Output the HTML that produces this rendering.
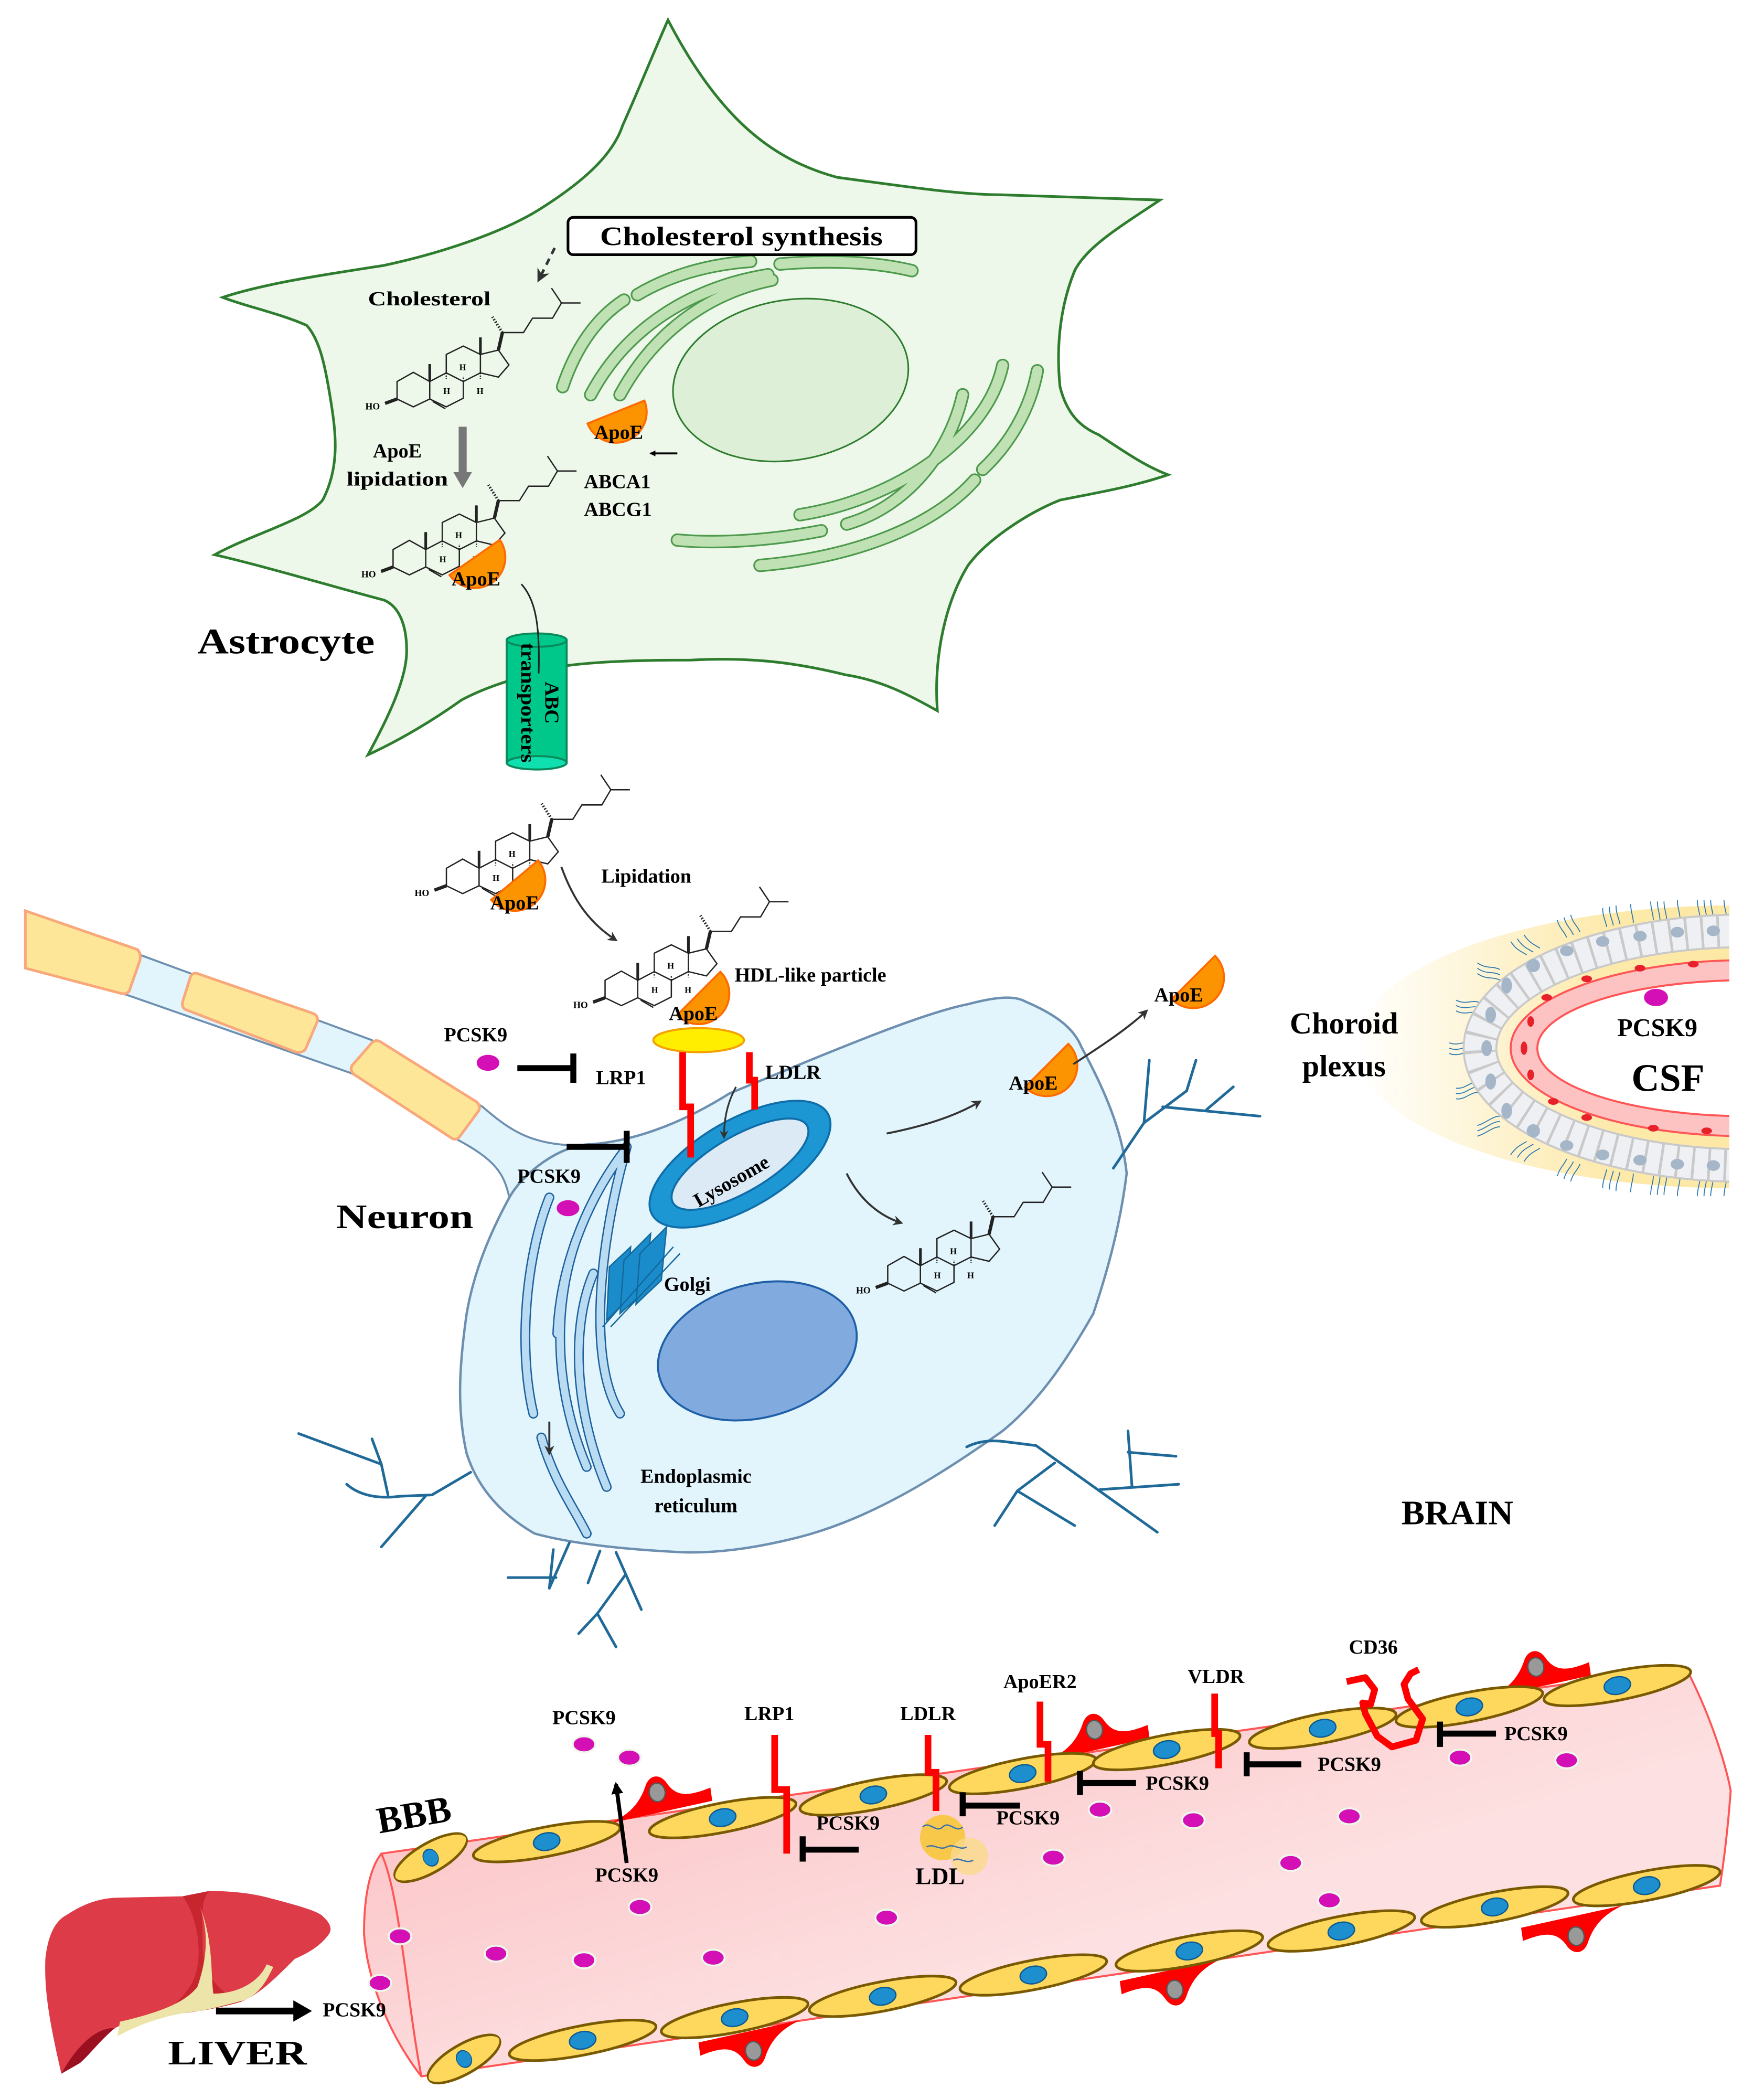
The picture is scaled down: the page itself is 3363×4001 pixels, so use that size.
<!DOCTYPE html>
<html><head><meta charset="utf-8"><style>
html,body{margin:0;padding:0;background:#fff;}
svg{display:block;}
text{font-family:"Liberation Serif",serif;font-weight:bold;fill:#000;}
</style></head><body>
<svg width="3363" height="4001" viewBox="0 0 1323 1574" preserveAspectRatio="none" xmlns="http://www.w3.org/2000/svg">
<defs>
<g id="chol" fill="none" stroke="#222" stroke-width="1">
<path d="M-12.2,-5.9 L0,-12.8 L12.3,-5.9 L12.3,7.2 L0,13.1 L-12.2,7.2 Z"/>
<path d="M12.3,-5.9 L24.7,-12.4 L37.5,-5.9 L37.5,6.6 L24.7,13.1 L12.3,7.2"/>
<path d="M24.7,-12.4 L24.7,-26.2 L37.5,-32.5 L50.3,-26.2 L50.3,-12.4 L37.5,-5.9"/>
<path d="M50.3,-26.2 L63.8,-29.5 L71.7,-18.3 L63.8,-9.2 L50.3,-12.4"/>
<path d="M14.5,9 L24,14.5"/>
<path d="M12.3,-5.9 L12.3,-19 M50.3,-26.2 L50.3,-39" stroke-width="2"/>
<path d="M63.8,-29.5 L66.8,-42.6" stroke-width="2.5"/>
<path d="M66.8,-42.6 L82.6,-42.6 L89.4,-53.4 L104.4,-53.4 L111.1,-64.8 L103.6,-76 M111.1,-64.8 L125.4,-64.8"/>
<path d="M66.8,-42.6 L59.3,-54.4" stroke-dasharray="1,1.2" stroke-width="2"/>
<path d="M-12.2,7.2 L-21.2,10.5" stroke-width="2.5"/>
<path d="M24.7,-12.4 L24.7,-8 M37.5,-5.9 L37.5,-10 M50.3,-12.4 L50.3,-8" stroke-dasharray="1,1"/>
<text x="-36" y="15" font-size="7" font-family="Liberation Sans" font-weight="normal" stroke="none" fill="#222">HO</text>
<text x="34.5" y="-14.5" font-size="6.5" font-family="Liberation Sans" font-weight="normal" stroke="none" fill="#222">H</text>
<text x="22.5" y="3.5" font-size="6.5" font-family="Liberation Sans" font-weight="normal" stroke="none" fill="#222">H</text>
<text x="47.5" y="3.5" font-size="6.5" font-family="Liberation Sans" font-weight="normal" stroke="none" fill="#222">H</text>
</g>
<path id="apoe" d="M-23,0 A23,23 0 0 0 23,0 Z" fill="#fb9400" stroke="#ff6a00" stroke-width="1.5"/>
<marker id="ah" viewBox="0 0 10 10" refX="8" refY="5" markerWidth="5" markerHeight="5" orient="auto"><path d="M0,0 L10,5 L0,10 L3,5 Z" fill="#333"/></marker>
<marker id="ahb" viewBox="0 0 10 10" refX="8" refY="5" markerWidth="3" markerHeight="3" orient="auto"><path d="M0,0 L10,5 L0,10 Z" fill="#000"/></marker>
<linearGradient id="yel" x1="0" y1="0" x2="1" y2="0"><stop offset="0" stop-color="#fff"/><stop offset="0.35" stop-color="#fde9a8"/><stop offset="1" stop-color="#fde6a0"/></linearGradient>
<linearGradient id="vess" x1="0" y1="0" x2="1" y2="1"><stop offset="0" stop-color="#fbb9bc"/><stop offset="0.6" stop-color="#fde0e1"/><stop offset="1" stop-color="#fde3e4"/></linearGradient>
<clipPath id="cpc"><rect x="900" y="600" width="397" height="400"/></clipPath>
<g id="cell"><ellipse rx="56" ry="11" fill="#fdd85d" stroke="#7a5a00" stroke-width="2"/><ellipse rx="10" ry="6.5" fill="#1d8fcf" stroke="#0d5a92" stroke-width="1"/></g>
<g id="peri"><path d="M-38,10 C-25,6 -15,0 -8,-14 C-4,-22 4,-22 8,-14 C14,-2 24,-2 40,-6 L40,4 Z" fill="#f00"/><ellipse cx="0" cy="-8" rx="6" ry="7" fill="#999" stroke="#555" stroke-width="1"/></g>
</defs>

<!-- ASTROCYTE -->
<path d="M501,15 C540,90 580,120 628,133 C680,140 720,146 749,146 L870,150 C840,170 815,185 806,203 C795,230 792,260 795,290 C800,310 810,320 824,326 C845,340 860,350 876,356 C850,365 820,370 795,375 C770,385 740,405 726,424 C710,450 700,490 703,533 C680,520 660,510 634,506 C590,495 555,493 518,495 C480,495 450,496 426,499 C400,505 370,512 346,525 C325,540 300,555 276,566 C290,540 305,510 305,488 C305,470 300,455 288,450 C250,440 200,425 161,416 C190,400 230,390 242,375 C255,350 252,325 248,300 C244,275 240,255 230,244 C210,235 185,230 167,223 C200,212 250,205 288,199 C330,190 375,175 403,158 C440,135 460,115 467,94 C480,65 492,35 501,15 Z" fill="#edf7ea" stroke="#2e7d2e" stroke-width="2"/>
<ellipse cx="593" cy="285" rx="89" ry="60" transform="rotate(-10 593 285)" fill="#ddefd6" stroke="#2e7d2e" stroke-width="1.2"/>
<g fill="none" stroke-linecap="round">
<g stroke="#4d9a4d" stroke-width="10">
<path d="M422,290 C432,260 448,238 468,225"/>
<path d="M478,221 C505,205 535,198 563,196"/>
<path d="M443,296 C470,245 520,215 576,206"/>
<path d="M465,296 C490,250 530,220 579,210"/>
<path d="M585,198 C620,195 655,196 684,203"/>
<path d="M752,274 C740,330 670,375 600,386"/>
<path d="M722,296 C712,340 680,380 635,393"/>
<path d="M778,278 C772,310 755,335 737,352"/>
<path d="M731,360 C700,395 640,418 570,424"/>
<path d="M508,405 C540,408 580,405 616,398"/>
</g>
<g stroke="#bfe1b4" stroke-width="7.5">
<path d="M422,290 C432,260 448,238 468,225"/>
<path d="M478,221 C505,205 535,198 563,196"/>
<path d="M443,296 C470,245 520,215 576,206"/>
<path d="M465,296 C490,250 530,220 579,210"/>
<path d="M585,198 C620,195 655,196 684,203"/>
<path d="M752,274 C740,330 670,375 600,386"/>
<path d="M722,296 C712,340 680,380 635,393"/>
<path d="M778,278 C772,310 755,335 737,352"/>
<path d="M731,360 C700,395 640,418 570,424"/>
<path d="M508,405 C540,408 580,405 616,398"/>
</g>
</g>
<rect x="426" y="163" width="261" height="28" rx="4" fill="#fff" stroke="#000" stroke-width="2"/>
<text x="556" y="184" font-size="20" text-anchor="middle" textLength="212" lengthAdjust="spacingAndGlyphs">Cholesterol synthesis</text>
<path d="M416,186 L404,210" stroke="#333" stroke-width="2" stroke-dasharray="5,4" fill="none" marker-end="url(#ah)"/>
<text x="276" y="229" font-size="15" textLength="92" lengthAdjust="spacingAndGlyphs">Cholesterol</text>
<use href="#chol" transform="translate(310,292)"/>
<rect x="344" y="320" width="6" height="40" fill="#777"/>
<path d="M340,354 L354,354 L347,366 Z" fill="#777"/>
<text x="298" y="343" font-size="15" text-anchor="middle">ApoE</text>
<text x="298" y="364" font-size="15" text-anchor="middle" textLength="76" lengthAdjust="spacingAndGlyphs">lipidation</text>
<use href="#chol" transform="translate(307,418)"/>
<use href="#apoe" transform="translate(462,309) rotate(-22)"/>
<text x="464" y="329" font-size="15" text-anchor="middle">ApoE</text>
<path d="M508,340 L488,340" stroke="#000" stroke-width="1.5" marker-end="url(#ahb)"/>
<text x="438" y="366" font-size="15">ABCA1</text>
<text x="438" y="387" font-size="15">ABCG1</text>
<use href="#apoe" transform="translate(356,418) rotate(-35)"/>
<text x="357" y="439" font-size="15" text-anchor="middle">ApoE</text>
<text x="148" y="490" font-size="27" textLength="133" lengthAdjust="spacingAndGlyphs">Astrocyte</text>
<!-- ABC transporter -->
<rect x="380" y="480" width="45" height="92" fill="#00c88a" stroke="#0a8a5a" stroke-width="1.5"/>
<ellipse cx="402.5" cy="480" rx="22.5" ry="5" fill="#00c88a" stroke="#0a8a5a" stroke-width="1.5"/>
<ellipse cx="402.5" cy="572" rx="22.5" ry="5" fill="#10e0b0" stroke="#0a8a5a" stroke-width="1.5"/>
<text transform="translate(409,527) rotate(90)" font-size="15" text-anchor="middle">ABC</text>
<text transform="translate(391,527) rotate(90)" font-size="15" text-anchor="middle" textLength="90" lengthAdjust="spacingAndGlyphs">transporters</text>
<path d="M391,438 C402,450 405,470 404,505" stroke="#222" stroke-width="1.2" fill="none"/>

<!-- Lipidation -->
<use href="#chol" transform="translate(347,657)"/>
<use href="#apoe" transform="translate(386,660) rotate(-40)"/>
<text x="386" y="682" font-size="15" text-anchor="middle">ApoE</text>
<text x="451" y="662" font-size="15">Lipidation</text>
<path d="M421,650 C430,675 442,692 462,705" stroke="#333" stroke-width="1.5" fill="none" marker-end="url(#ah)"/>

<!-- AXON -->
<path d="M19,686 L105,716 L279,780 L362,830 C385,850 400,858 433,859 L382,898 C378,880 372,870 342,854 L264,805 L95,746 L19,726 Z" fill="#e2f4fc" stroke="#6d8fb0" stroke-width="1.5"/>
<g fill="#fee699" stroke="#f8a87a" stroke-width="2">
<path d="M19,683 L103,712 Q106,715 105,720 L97,743 Q95,746 91,745 L19,726 Z"/>
<path d="M148,730 L235,760 Q239,762 238,766 L229,787 Q226,790 222,789 L139,757 Q136,755 137,751 L143,732 Q145,729 148,730 Z"/>
<path d="M285,781 L357,826 Q361,829 359,833 L345,852 Q342,856 338,853 L266,806 Q262,803 264,799 L278,783 Q281,779 285,781 Z"/>
</g>
<!-- NEURON -->
<path d="M382,898 C392,880 420,858 444,858 C480,855 515,840 547,820 C620,790 690,760 726,753 C745,748 760,746 769,751 C790,760 805,770 811,785 C830,820 842,850 845,880 C840,920 830,955 820,985 C800,1020 780,1050 752,1073 C700,1110 650,1140 598,1153 C570,1160 540,1165 512,1164 C470,1162 430,1158 401,1150 C375,1135 358,1115 350,1090 C342,1055 345,1020 350,985 C356,950 370,920 382,898 Z" fill="#e2f4fc" stroke="#6d8fb0" stroke-width="1.8"/>
<!-- neuron ER -->
<g fill="none" stroke-linecap="round">
<g stroke="#1c5f9c" stroke-width="7.5">
<path d="M469,862 C440,900 420,950 418,1000"/>
<path d="M445,955 C430,990 428,1050 455,1115"/>
<path d="M412,898 C395,940 388,1010 400,1060"/>
<path d="M432,930 C415,980 415,1040 440,1100"/>
<path d="M470,860 C450,930 440,1020 465,1060"/>
<path d="M406,1078 C415,1110 430,1130 440,1150"/>
</g>
<g stroke="#b9dcf3" stroke-width="5.5">
<path d="M469,862 C440,900 420,950 418,1000"/>
<path d="M445,955 C430,990 428,1050 455,1115"/>
<path d="M412,898 C395,940 388,1010 400,1060"/>
<path d="M432,930 C415,980 415,1040 440,1100"/>
<path d="M470,860 C450,930 440,1020 465,1060"/>
<path d="M406,1078 C415,1110 430,1130 440,1150"/>
</g>
</g>
<!-- Golgi -->
<g fill="#1a8ccb" stroke="#14689a" stroke-width="1">
<path d="M457,950 L473,935 L470,975 L455,990 Z"/>
<path d="M468,945 L488,925 L484,968 L465,985 Z"/>
<path d="M480,940 L500,920 L496,960 L477,978 Z"/>
<path d="M452,995 L505,935" fill="none"/>
<path d="M458,995 L510,940" fill="none"/>
</g>
<ellipse cx="568" cy="1013" rx="76" ry="50" transform="rotate(-15 568 1013)" fill="#81abde" stroke="#1f5fa8" stroke-width="1.5"/>
<!-- Lysosome -->
<ellipse cx="555" cy="873" rx="76" ry="33" transform="rotate(-30 555 873)" fill="#1d97d4" stroke="#0f6da8" stroke-width="1.5"/>
<ellipse cx="555" cy="873" rx="58" ry="21" transform="rotate(-30 555 873)" fill="#dceaf6" stroke="#0f6da8" stroke-width="1.5"/>
<text transform="translate(551,890) rotate(-30)" font-size="15" text-anchor="middle">Lysosome</text>
<text x="498" y="968" font-size="15">Golgi</text>
<text x="522" y="1112" font-size="15" text-anchor="middle">Endoplasmic</text>
<text x="522" y="1134" font-size="15" text-anchor="middle">reticulum</text>
<text x="252" y="921" font-size="26" textLength="103" lengthAdjust="spacingAndGlyphs">Neuron</text>
<path d="M412,1066 L412,1090" stroke="#333" stroke-width="1.5" marker-end="url(#ah)"/>
<!-- HDL -->
<use href="#chol" transform="translate(466,741)"/>
<use href="#apoe" transform="translate(524,745) rotate(-45)"/>
<text x="520" y="765" font-size="15" text-anchor="middle">ApoE</text>
<text x="551" y="736" font-size="15">HDL-like particle</text>
<ellipse cx="524" cy="780" rx="34" ry="9" fill="#ffee00" stroke="#f5a000" stroke-width="1.5"/>
<g fill="none" stroke="#f00" stroke-width="5">
<path d="M512,789 L512,830 L518,830 L518,868"/>
<path d="M562,789 L562,810 L566,810 L566,832"/>
</g>
<path d="M552,815 C545,828 543,840 543,853" stroke="#333" stroke-width="1.3" fill="none" marker-end="url(#ah)"/>
<!-- PCSK9 neuron -->
<text x="333" y="781" font-size="15">PCSK9</text>
<ellipse cx="366" cy="797" rx="8.5" ry="6" fill="#d40fb5"/>
<path d="M388,801 L428,801 M430,790 L430,812" stroke="#000" stroke-width="4.5"/>
<text x="447" y="813" font-size="15">LRP1</text>
<text x="574" y="809" font-size="15">LDLR</text>
<path d="M425,860 L468,860 M470,848 L470,872" stroke="#000" stroke-width="4.5"/>
<text x="388" y="887" font-size="15">PCSK9</text>
<ellipse cx="426" cy="906" rx="8.5" ry="6" fill="#d40fb5"/>
<!-- arrows out -->
<path d="M665,850 C690,845 715,838 735,826" stroke="#333" stroke-width="1.5" fill="none" marker-end="url(#ah)"/>
<path d="M635,880 C645,900 660,912 676,917" stroke="#333" stroke-width="1.5" fill="none" marker-end="url(#ah)"/>
<use href="#chol" transform="translate(678,955)"/>
<use href="#apoe" transform="translate(785,799) rotate(-45)"/>
<text x="775" y="817" font-size="15" text-anchor="middle">ApoE</text>
<path d="M805,798 C825,785 845,772 860,758" stroke="#333" stroke-width="1.5" fill="none" marker-end="url(#ah)"/>
<use href="#apoe" transform="translate(895,733) rotate(-45)"/>
<text x="884" y="751" font-size="15" text-anchor="middle">ApoE</text>
<!-- dendrites -->
<g fill="none" stroke="#1f6a98" stroke-width="2" stroke-linecap="round">
<path d="M224,1075 L286,1098 L291,1121 M279,1079 L286,1098"/>
<path d="M260,1113 C270,1122 285,1124 300,1122 L324,1121 L353,1104"/>
<path d="M319,1122 L286,1160"/>
<path d="M415,1162 L412,1191 M427,1157 L412,1191 M381,1183 L417,1183"/>
<path d="M450,1163 L441,1187 M462,1164 L481,1207 M469,1181 L448,1210 L434,1225 M448,1210 L462,1235"/>
<path d="M725,1085 C735,1080 745,1080 753,1081 L777,1084 L868,1149 M791,1097 L763,1118 L746,1144 M763,1118 L806,1144"/>
<path d="M825,1117 L884,1113 M846,1073 L849,1115 M846,1089 L882,1092"/>
<path d="M835,876 L858,842 L862,795 M858,842 L890,818 L897,795 M872,830 L945,837 M905,832 L925,815"/>
</g>

<!-- CHOROID PLEXUS -->
<g clip-path="url(#cpc)">
<ellipse cx="1300" cy="785" rx="283" ry="106" fill="url(#yel)"/>
<g fill="#eef0f3" stroke="#c8c8c8" stroke-width="1">
<g id="cilia" fill="none" stroke="#1a6fa8" stroke-width="0.7"></g>
</g>
<g transform="translate(1310,786)">
<g fill="none" stroke="#2a78b0" stroke-width="0.7">
<path d="M-205,0 c-5,-3 -10,3 -18,0 M-205,4 c-5,-3 -10,3 -18,0 M-205,-4 c-5,-3 -10,3 -18,0"/>
<path d="M-200,-30 c-6,-3 -10,2 -18,-2 M-200,-26 c-6,-3 -10,2 -18,-2 M-200,-34 c-6,-3 -10,2 -18,-2"/>
<path d="M-200,30 c-6,-3 -10,5 -18,4 M-200,34 c-6,-3 -10,5 -18,4 M-200,26 c-6,-3 -10,5 -18,4"/>
<path d="M-185,-55 c-6,-3 -10,0 -17,-5 M-185,-51 c-6,-3 -10,0 -17,-5 M-185,-59 c-6,-3 -10,0 -17,-5"/>
<path d="M-185,55 c-6,0 -10,5 -17,7 M-185,59 c-6,0 -10,5 -17,7 M-185,51 c-6,0 -10,5 -17,7"/>
<path d="M-160,-72 c-5,-3 -8,-4 -12,-10 M-155,-75 c-5,-3 -8,-4 -12,-10 M-165,-70 c-5,-3 -8,-4 -12,-10"/>
<path d="M-160,72 c-5,3 -8,4 -12,10 M-155,75 c-5,3 -8,4 -12,10 M-165,70 c-5,3 -8,4 -12,10"/>
<path d="M-130,-85 c-2,-5 -5,-6 -7,-13 M-125,-87 c-2,-5 -5,-6 -7,-13 M-135,-83 c-2,-5 -5,-6 -7,-13"/>
<path d="M-130,85 c-2,5 -5,6 -7,13 M-125,87 c-2,5 -5,6 -7,13 M-135,83 c-2,5 -5,6 -7,13"/>
<path d="M-100,-92 c-1,-5 -3,-8 -3,-14 M-95,-93 c-1,-5 -3,-8 -3,-14 M-105,-91 c-1,-5 -3,-8 -3,-14"/>
<path d="M-100,92 c-1,5 -3,8 -3,14 M-95,93 c-1,5 -3,8 -3,14 M-105,91 c-1,5 -3,8 -3,14"/>
<path d="M-65,-96 c0,-5 -2,-8 -2,-14 M-60,-96 c0,-5 -2,-8 -2,-14 M-70,-96 c0,-5 -2,-8 -2,-14 M-30,-97 c0,-5 -2,-8 -2,-14 M-25,-97 c0,-5 -2,-8 -2,-14 M-35,-97 c0,-5 -2,-8 -2,-14 M5,-97 c0,-5 -2,-8 -2,-14 M10,-97 c0,-5 -2,-8 -2,-14 M0,-97 c0,-5 -2,-8 -2,-14 M-15,-97 c0,-5 -2,-8 -2,-14 M-50,-97 c0,-5 -2,-8 -2,-14 M-85,-94 c0,-5 -2,-8 -2,-14"/>
<path d="M-65,96 c0,5 -2,8 -2,14 M-60,96 c0,5 -2,8 -2,14 M-70,96 c0,5 -2,8 -2,14 M-30,97 c0,5 -2,8 -2,14 M-25,97 c0,5 -2,8 -2,14 M-35,97 c0,5 -2,8 -2,14 M5,97 c0,5 -2,8 -2,14 M10,97 c0,5 -2,8 -2,14 M0,97 c0,5 -2,8 -2,14 M-15,97 c0,5 -2,8 -2,14 M-50,97 c0,5 -2,8 -2,14 M-85,94 c0,5 -2,8 -2,14"/>
</g>
<ellipse rx="200" ry="88" fill="none" stroke="#c9c9c9" stroke-width="26"/>
<ellipse rx="200" ry="88" fill="none" stroke="#eef0f3" stroke-width="23" stroke-dasharray="10,2"/>
<g fill="#a5b6c8">
<ellipse cx="-195" cy="0" rx="4" ry="6"/><ellipse cx="-192" cy="-25" rx="4" ry="6"/><ellipse cx="-192" cy="25" rx="4" ry="6"/>
<ellipse cx="-180" cy="-47" rx="4" ry="6"/><ellipse cx="-180" cy="47" rx="4" ry="6"/><ellipse cx="-160" cy="-62" rx="5" ry="5"/><ellipse cx="-160" cy="62" rx="5" ry="5"/>
<ellipse cx="-135" cy="-73" rx="5" ry="4"/><ellipse cx="-135" cy="73" rx="5" ry="4"/><ellipse cx="-108" cy="-80" rx="5" ry="4"/><ellipse cx="-108" cy="80" rx="5" ry="4"/>
<ellipse cx="-80" cy="-84" rx="5" ry="4"/><ellipse cx="-80" cy="84" rx="5" ry="4"/><ellipse cx="-52" cy="-87" rx="5" ry="4"/><ellipse cx="-52" cy="87" rx="5" ry="4"/>
<ellipse cx="-25" cy="-88" rx="5" ry="4"/><ellipse cx="-25" cy="88" rx="5" ry="4"/><ellipse cx="0" cy="-88" rx="5" ry="4"/><ellipse cx="0" cy="88" rx="5" ry="4"/>
</g>
<ellipse rx="177" ry="66" fill="#fdc3c3" stroke="#f55" stroke-width="1.5"/>
<ellipse rx="157" ry="51" fill="#fff" stroke="#f55" stroke-width="1.5"/>
<g fill="#e8202a">
<ellipse cx="-167" cy="0" rx="2.5" ry="5"/><ellipse cx="-162" cy="-20" rx="2.5" ry="4"/><ellipse cx="-162" cy="20" rx="2.5" ry="4"/>
<ellipse cx="-150" cy="-38" rx="4" ry="2.5"/><ellipse cx="-145" cy="40" rx="4" ry="2.5"/><ellipse cx="-120" cy="-52" rx="4" ry="2.5"/>
<ellipse cx="-120" cy="52" rx="4" ry="2.5"/><ellipse cx="-80" cy="-60" rx="4" ry="2.5"/><ellipse cx="-70" cy="60" rx="4" ry="2.5"/>
<ellipse cx="-40" cy="-63" rx="4" ry="2.5"/><ellipse cx="-30" cy="62" rx="4" ry="2.5"/>
</g>
</g>
</g>
<text x="1008" y="775" font-size="23" text-anchor="middle">Choroid</text>
<text x="1008" y="807" font-size="23" text-anchor="middle">plexus</text>
<ellipse cx="1242" cy="748" rx="9" ry="6.5" fill="#d40fb5"/>
<text x="1243" y="777" font-size="19" text-anchor="middle">PCSK9</text>
<text x="1251" y="818" font-size="29" text-anchor="middle">CSF</text>
<text x="1093" y="1143" font-size="26" text-anchor="middle">BRAIN</text>

<!-- BBB VESSEL -->
<path d="M286,1390 L1264,1250 C1285,1290 1296,1330 1298,1343 C1296,1370 1293,1395 1290,1414 L316,1557 C295,1530 276,1490 273,1450 C273,1420 278,1400 286,1390 Z" fill="url(#vess)" stroke="#f55" stroke-width="1.5"/>
<path d="M286,1390 C300,1420 305,1500 316,1557" fill="none" stroke="#f55" stroke-width="1.5"/>
<use href="#peri" transform="translate(494,1352) rotate(-8)"/>
<use href="#peri" transform="translate(822,1305) rotate(-8)"/>
<use href="#peri" transform="translate(1153,1258) rotate(-8)"/>
<use href="#peri" transform="translate(564,1530) rotate(172)"/>
<use href="#peri" transform="translate(880,1484) rotate(172)"/>
<use href="#peri" transform="translate(1181,1444) rotate(172)"/>
<use href="#cell" transform="translate(323,1393) rotate(-30) scale(0.55,1)"/>
<use href="#cell" transform="translate(410,1381) rotate(-11)"/>
<use href="#cell" transform="translate(542,1363) rotate(-11)"/>
<use href="#cell" transform="translate(655,1346) rotate(-11)"/>
<use href="#cell" transform="translate(767,1330) rotate(-11)"/>
<use href="#cell" transform="translate(875,1312) rotate(-11)"/>
<use href="#cell" transform="translate(992,1296) rotate(-11)"/>
<use href="#cell" transform="translate(1102,1280) rotate(-11)"/>
<use href="#cell" transform="translate(1213,1264) rotate(-11)"/>
<use href="#cell" transform="translate(348,1544) rotate(-30) scale(0.55,1)"/>
<use href="#cell" transform="translate(437,1530) rotate(-11)"/>
<use href="#cell" transform="translate(551,1513) rotate(-11)"/>
<use href="#cell" transform="translate(662,1497) rotate(-11)"/>
<use href="#cell" transform="translate(775,1481) rotate(-11)"/>
<use href="#cell" transform="translate(892,1463) rotate(-11)"/>
<use href="#cell" transform="translate(1006,1448) rotate(-11)"/>
<use href="#cell" transform="translate(1121,1430) rotate(-11)"/>
<use href="#cell" transform="translate(1235,1414) rotate(-11)"/>
<!-- dots -->
<g fill="#d40fb5" stroke="#eef7ea" stroke-width="1.5">
<ellipse cx="438" cy="1308" rx="8.5" ry="6"/><ellipse cx="472" cy="1318" rx="8.5" ry="6"/>
<ellipse cx="300" cy="1452" rx="8.5" ry="6"/><ellipse cx="285" cy="1487" rx="8.5" ry="6"/>
<ellipse cx="372" cy="1465" rx="8.5" ry="6"/><ellipse cx="438" cy="1470" rx="8.5" ry="6"/>
<ellipse cx="535" cy="1468" rx="8.5" ry="6"/><ellipse cx="480" cy="1430" rx="8.5" ry="6"/>
<ellipse cx="665" cy="1438" rx="8.5" ry="6"/><ellipse cx="790" cy="1393" rx="8.5" ry="6"/>
<ellipse cx="825" cy="1357" rx="8.5" ry="6"/><ellipse cx="895" cy="1365" rx="8.5" ry="6"/>
<ellipse cx="1012" cy="1362" rx="8.5" ry="6"/><ellipse cx="968" cy="1397" rx="8.5" ry="6"/>
<ellipse cx="997" cy="1425" rx="8.5" ry="6"/><ellipse cx="1095" cy="1318" rx="8.5" ry="6"/>
<ellipse cx="1175" cy="1320" rx="8.5" ry="6"/>
</g>
<!-- receptors -->
<g fill="none" stroke="#f00" stroke-width="5">
<path d="M581,1301 L581,1342 L590,1342 L590,1390"/>
<path d="M696,1301 L696,1329 L702,1329 L702,1358"/>
<path d="M780,1276 L780,1308 L786,1308 L786,1336"/>
<path d="M911,1270 L911,1300 L914,1300 L914,1326"/>
<path d="M1010,1261 L1024,1258 L1031,1267 L1028,1278 L1022,1277 L1024,1285 L1033,1302 L1044,1310 L1062,1305 L1067,1289 L1056,1274 L1053,1263 L1058,1255 L1064,1252" stroke-linejoin="round"/>
</g>
<!-- LDL -->
<circle cx="707" cy="1378" r="17" fill="#f7c63c" opacity="0.9"/>
<circle cx="727" cy="1392" r="14" fill="#f9da8a" opacity="0.8"/>
<path d="M692,1370 c5,-5 10,5 15,0 c5,-5 10,5 15,0 M695,1385 c5,-3 10,3 15,0 c5,-3 10,3 15,0 M715,1395 c5,-3 8,3 15,0" fill="none" stroke="#3a6fb0" stroke-width="1"/>
<!-- inhibitor bars -->
<g stroke="#000" stroke-width="4.5">
<path d="M602,1377 L602,1396 M602,1387 L644,1387"/>
<path d="M722,1344 L722,1362 M722,1354 L765,1354"/>
<path d="M810,1328 L810,1346 M810,1337 L852,1337"/>
<path d="M935,1314 L935,1332 M935,1323 L976,1323"/>
<path d="M1080,1291 L1080,1310 M1080,1300 L1122,1300"/>
</g>
<path d="M470,1397 L462,1338" stroke="#000" stroke-width="3" marker-end="url(#ahb)"/>
<text x="438" y="1293" font-size="15" text-anchor="middle">PCSK9</text>
<text x="577" y="1290" font-size="15" text-anchor="middle">LRP1</text>
<text x="696" y="1290" font-size="15" text-anchor="middle">LDLR</text>
<text x="780" y="1266" font-size="15" text-anchor="middle">ApoER2</text>
<text x="912" y="1262" font-size="15" text-anchor="middle">VLDR</text>
<text x="1030" y="1240" font-size="15" text-anchor="middle">CD36</text>
<text x="470" y="1411" font-size="15" text-anchor="middle">PCSK9</text>
<text x="636" y="1372" font-size="15" text-anchor="middle">PCSK9</text>
<text x="771" y="1368" font-size="15" text-anchor="middle">PCSK9</text>
<text x="883" y="1342" font-size="15" text-anchor="middle">PCSK9</text>
<text x="1012" y="1328" font-size="15" text-anchor="middle">PCSK9</text>
<text x="1152" y="1305" font-size="15" text-anchor="middle">PCSK9</text>
<text x="705" y="1413" font-size="18" text-anchor="middle">LDL</text>
<text transform="translate(312,1370) rotate(-10)" font-size="28" text-anchor="middle">BBB</text>
<!-- LIVER -->
<path d="M46,1555 C38,1520 33,1495 34,1469 C36,1450 42,1440 50,1436 C65,1426 78,1423 90,1423 L137,1422 L157,1418 C175,1418 190,1420 201,1423 C220,1428 235,1432 241,1436 C248,1442 249,1446 247,1450 C240,1460 230,1465 221,1469 C205,1485 195,1495 181,1501 C160,1507 140,1510 121,1511 C105,1514 95,1516 86,1521 C75,1530 68,1540 60,1547 Z" fill="#dd3b48"/>
<path d="M137,1422 C150,1440 152,1470 145,1485 C140,1495 130,1505 121,1511 C140,1510 160,1507 181,1501 C165,1495 152,1480 152,1460 C152,1440 150,1425 157,1418 Z" fill="#c8262f"/>
<path d="M150,1430 C157,1450 155,1470 148,1490 C140,1500 125,1508 90,1516 L88,1527 C110,1515 130,1510 150,1508 C165,1505 175,1502 183,1500 C195,1495 200,1485 205,1475 L200,1473 C195,1485 180,1495 160,1495 C158,1480 160,1455 150,1430 Z" fill="#ece4a8"/>
<path d="M46,1555 C60,1530 75,1520 86,1521 C75,1530 68,1540 60,1547 Z" fill="#9a1020"/>
<path d="M162,1508 L222,1508" stroke="#000" stroke-width="5"/>
<path d="M220,1500 L234,1508 L220,1516 Z" fill="#000"/>
<text x="242" y="1512" font-size="15">PCSK9</text>
<text x="178" y="1548" font-size="26" text-anchor="middle" textLength="104" lengthAdjust="spacingAndGlyphs">LIVER</text>
</svg>
</body></html>
